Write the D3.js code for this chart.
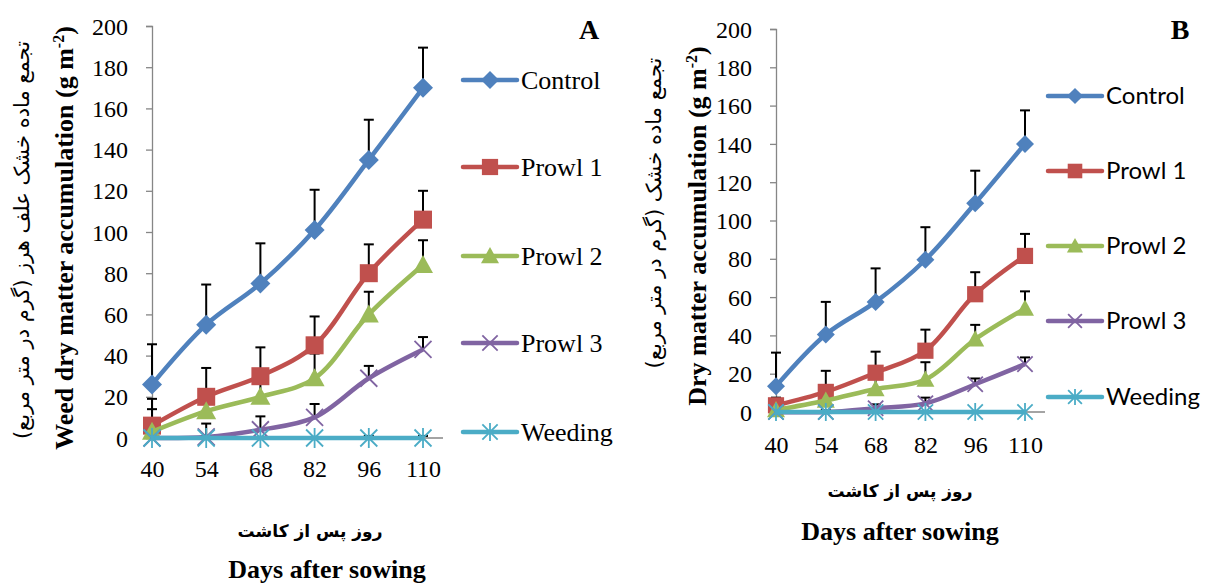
<!DOCTYPE html>
<html>
<head>
<meta charset="utf-8">
<script src="https://d3js.org/d3.v7.min.js"></script>
<style>
  body { margin: 0; background: #fff; }
  svg { display: block; }
  .tick text { font-family: "Liberation Serif", serif; font-size: 24px; fill: #000; }
  .yaxis path, .yaxis line { stroke: #868686; stroke-width: 1.3px; }
  .xaxis path { stroke: #868686; stroke-width: 1.3px; }
  .xaxis line { display: none; }
</style>
</head>
<body>
<svg width="1205" height="585"></svg>
<script>
const days = [40, 54, 68, 82, 96, 110];
const seriesNames = ["Control", "Prowl 1", "Prowl 2", "Prowl 3", "Weeding"];
const colors = ["#4F81BD", "#C0504D", "#9BBB59", "#8064A2", "#4BACC6"];
const markers = ["diamond", "square", "triangle", "cross", "star"];
const yTicks = [0, 20, 40, 60, 80, 100, 120, 140, 160, 180, 200];

// panel A values and upward error bars
const controlA = [26, 55, 75, 101, 135, 170];
const prowl1A = [6, 20, 30, 45, 80, 106];
const prowl2A = [3, 13, 20, 29, 60, 84];
const prowl3A = [0, 0.5, 4, 10, 29, 43];
const weedingA = [0, 0, 0, 0, 0, 0];
const controlErrA = [19.5, 19.5, 19.5, 19.5, 19.5, 19.5];
const prowl1ErrA = [13, 14, 14, 14, 14, 14];
const prowl2ErrA = [11, 8, 10, 12, 11, 12];
const prowl3ErrA = [2, 6.5, 6.5, 6.5, 6, 6];
const weedingErrA = [0, 0, 0, 0, 1, 1];

// panel B values and upward error bars
const controlB = [13.5, 40.5, 57.5, 79.5, 109, 140];
const prowl1B = [3.5, 10.5, 20.5, 32, 61.5, 81.5];
const prowl2B = [1, 6, 12, 17, 38, 54];
const prowl3B = [0, 0, 2, 4.5, 14.5, 25];
const weedingB = [0, 0, 0, 0, 0, 0];
const controlErrB = [17.5, 17, 17.5, 17, 17, 17.5];
const prowl1ErrB = [4, 11, 11, 11, 11.5, 11.5];
const prowl2ErrB = [2, 5, 7, 9, 7.5, 9];
const prowl3ErrB = [1, 1, 2, 3, 3, 3.5];
const weedingErrB = [0, 0, 0, 0, 0, 0];

const svg = d3.select("svg");

function drawPanel(cfg) {
  const g = svg.append("g");
  const x = d3.scalePoint().domain(days).range([cfg.x0, cfg.x1]);
  const y = d3.scaleLinear().domain([0, 200]).range([cfg.y0, cfg.y1]);

  g.append("g").attr("class", "xaxis")
    .attr("transform", `translate(0,${cfg.y0})`)
    .call(d3.axisBottom(x).tickSize(0).tickPadding(cfg.xPad))
    .call(a => a.select(".domain").attr("d", `M${cfg.x0},0H${cfg.x1 + 20}`));

  g.append("g").attr("class", "yaxis")
    .attr("transform", `translate(${cfg.x0},0)`)
    .call(d3.axisLeft(y).tickValues(yTicks).tickSize(6).tickPadding(18))
    .selectAll(".tick text").attr("dy", "0.34em");

  const series = cfg.values.map((v, i) => ({ name: seriesNames[i], vals: v, err: cfg.errs[i], color: colors[i], mk: markers[i] }));

  // error bars
  series.forEach(s => {
    s.vals.forEach((v, j) => {
      if (s.err[j] <= 0) return;
      const cx = x(days[j]), yt = y(v + s.err[j]);
      g.append("line").attr("x1", cx).attr("x2", cx).attr("y1", y(v)).attr("y2", yt)
        .attr("stroke", "#000").attr("stroke-width", 2);
      g.append("line").attr("x1", cx - 5).attr("x2", cx + 5).attr("y1", yt).attr("y2", yt)
        .attr("stroke", "#000").attr("stroke-width", 2);
    });
  });

  const line = d3.line().x((d, j) => x(days[j])).y(d => y(d)).curve(d3.curveCatmullRom.alpha(0.5));
  series.forEach(s => {
    g.append("path").attr("d", line(s.vals)).attr("fill", "none")
      .attr("stroke", s.color).attr("stroke-width", cfg.lw).attr("stroke-linejoin", "round");
    s.vals.forEach((v, j) => drawMarker(g, s.mk, x(days[j]), y(v), cfg.ms, s.color));
  });

  // legend
  series.forEach((s, i) => {
    const ly = cfg.legY[i];
    g.append("line").attr("x1", cfg.legX).attr("x2", cfg.legX + 54).attr("y1", ly).attr("y2", ly)
      .attr("stroke", s.color).attr("stroke-width", cfg.lw).attr("stroke-linecap", "round");
    drawMarker(g, s.mk, cfg.legX + 27, ly, cfg.ms * 0.9, s.color);
    g.append("text").attr("x", cfg.legX + 58).attr("y", ly).attr("dy", "0.35em")
      .style("font-family", cfg.legFont).style("font-size", cfg.legSize + "px").text(s.name);
  });

  // panel letter
  g.append("text").attr("x", cfg.letterX).attr("y", 39).attr("text-anchor", "middle")
    .style("font-family", "Liberation Serif, serif").style("font-weight", "bold").style("font-size", "28px")
    .text(cfg.letter);

  // y titles
  g.append("text").attr("transform", `translate(${cfg.yFaX},${cfg.yFaY}) rotate(-90)`)
    .attr("text-anchor", "middle").attr("dy", "0.35em")
    .style("font-family", "DejaVu Sans, sans-serif").style("font-size", cfg.yFaSize + "px")
    .text(cfg.yFa);
  g.append("text").attr("transform", `translate(${cfg.yEnX},${cfg.yEnY}) rotate(-90)`)
    .attr("text-anchor", "middle").attr("dy", "0.35em")
    .style("font-family", "Liberation Serif, serif").style("font-weight", "bold").style("font-size", "26px")
    .html(cfg.yEn + ' (g m<tspan dy="-9" font-size="16px">-2</tspan><tspan dy="9">)</tspan>');

  // x titles
  g.append("text").attr("x", cfg.xtX).attr("y", cfg.xFaY).attr("text-anchor", "middle")
    .style("font-family", "DejaVu Sans, sans-serif").style("font-weight", "bold").style("font-size", "17px")
    .text("روز پس از کاشت");
  g.append("text").attr("x", cfg.xtX2).attr("y", cfg.xEnY).attr("text-anchor", "middle")
    .style("font-family", "Liberation Serif, serif").style("font-weight", "bold").style("font-size", "26px")
    .text("Days after sowing");
}

function drawMarker(g, type, cx, cy, s, color) {
  const h = s / 2;
  if (type === "diamond") {
    g.append("path").attr("d", `M${cx},${cy - h}L${cx + h},${cy}L${cx},${cy + h}L${cx - h},${cy}Z`).attr("fill", color);
  } else if (type === "square") {
    const q = h * 0.9;
    g.append("rect").attr("x", cx - q).attr("y", cy - q).attr("width", 2 * q).attr("height", 2 * q).attr("fill", color);
  } else if (type === "triangle") {
    g.append("path").attr("d", `M${cx},${cy - h}L${cx + h},${cy + h * 0.8}L${cx - h},${cy + h * 0.8}Z`).attr("fill", color);
  } else if (type === "cross") {
    const q = h * 0.85;
    g.append("path").attr("d", `M${cx - q},${cy - q}L${cx + q},${cy + q}M${cx - q},${cy + q}L${cx + q},${cy - q}`)
      .attr("stroke", color).attr("stroke-width", 1.8);
  } else {
    const q = h * 0.85;
    g.append("path").attr("d", `M${cx - q},${cy - q}L${cx + q},${cy + q}M${cx - q},${cy + q}L${cx + q},${cy - q}M${cx},${cy - h}L${cx},${cy + h}`)
      .attr("stroke", color).attr("stroke-width", 1.8);
  }
}

drawPanel({
  x0: 152, x1: 423, y0: 438, y1: 26, xPad: 22, lw: 4.5, ms: 20,
  values: [controlA, prowl1A, prowl2A, prowl3A, weedingA],
  errs: [controlErrA, prowl1ErrA, prowl2ErrA, prowl3ErrA, weedingErrA],
  legX: 463, legY: [80, 167, 256, 343, 432], legFont: "Liberation Serif, serif", legSize: 26,
  letter: "A", letterX: 589,
  yFa: "تجمع ماده خشک علف هرز (گرم در متر مربع)", yFaX: 22, yFaY: 240, yFaSize: 21,
  yEn: "Weed dry matter accumulation", yEnX: 64, yEnY: 238,
  xtX: 310, xFaY: 537, xtX2: 327, xEnY: 578
});

drawPanel({
  x0: 776, x1: 1025, y0: 412, y1: 29, xPad: 24, lw: 4.5, ms: 18,
  values: [controlB, prowl1B, prowl2B, prowl3B, weedingB],
  errs: [controlErrB, prowl1ErrB, prowl2ErrB, prowl3ErrB, weedingErrB],
  legX: 1048, legY: [96, 171, 246, 321, 397], legFont: "Lato, sans-serif", legSize: 24,
  letter: "B", letterX: 1180,
  yFa: "تجمع ماده خشک (گرم در متر مربع)", yFaX: 654, yFaY: 213, yFaSize: 21,
  yEn: "Dry matter accumulation", yEnX: 697, yEnY: 226,
  xtX: 900, xFaY: 497, xtX2: 900, xEnY: 540
});
</script>
</body>
</html>
